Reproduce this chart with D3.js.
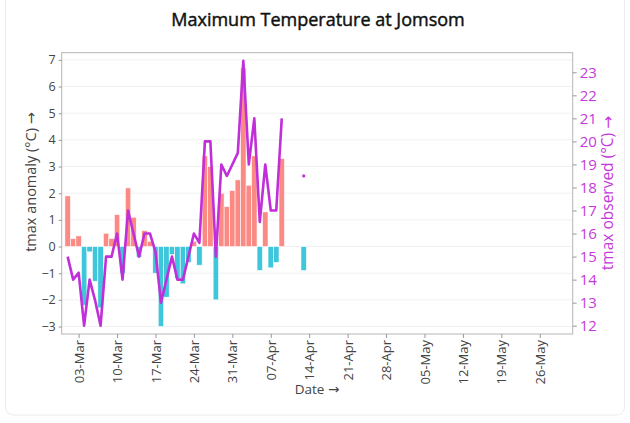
<!DOCTYPE html>
<html>
<head>
<meta charset="utf-8">
<script src="https://cdn.jsdelivr.net/npm/d3@7"></script>
<style>
  body { margin: 0; background: #fff; font-family: "Open Sans", "Noto Sans", sans-serif; }
  .tick text { font-family: "Open Sans", "Noto Sans", sans-serif; }
  .arrow { font-family: "DejaVu Sans", sans-serif; }
</style>
</head>
<body>
<div id="chart"></div>
<script>
var svgWidth = 630;
var svgHeight = 423;

var margin = { top: 52.7, right: 57.3, bottom: 89, left: 61.7 };
var width = svgWidth - margin.left - margin.right;
var height = svgHeight - margin.top - margin.bottom;

// daily values, 01-Mar .. 13-Apr (null = missing)
var dates = ["2023-03-01","2023-03-02","2023-03-03","2023-03-04","2023-03-05","2023-03-06","2023-03-07",
  "2023-03-08","2023-03-09","2023-03-10","2023-03-11","2023-03-12","2023-03-13","2023-03-14",
  "2023-03-15","2023-03-16","2023-03-17","2023-03-18","2023-03-19","2023-03-20","2023-03-21",
  "2023-03-22","2023-03-23","2023-03-24","2023-03-25","2023-03-26","2023-03-27","2023-03-28",
  "2023-03-29","2023-03-30","2023-03-31","2023-04-01","2023-04-02","2023-04-03","2023-04-04",
  "2023-04-05","2023-04-06","2023-04-07","2023-04-08","2023-04-09","2023-04-10","2023-04-11",
  "2023-04-12","2023-04-13"];
var anomaly = [1.9, 0.3, 0.4, -2.2, -0.2, -1.3, -2.3,
  0.5, 0.3, 1.2, -1.0, 2.2, 1.1, -0.4,
  0.6, 0.2, -1.0, -3.0, -1.9, -0.3, -1.2,
  -1.4, -0.6, 0.2, -0.7, 3.4, 3.0, -2.0,
  2.0, 1.5, 2.1, 2.5, 6.7, 2.3, 3.4,
  -0.9, 1.3, -0.8, -0.6, 3.3, null, null,
  null, -0.9];
var observed = [15, 14, 14.3, 12, 14, 13.1, 12,
  15, 15, 16, 14, 17, 16, 15,
  16, 16, 15.2, 13, 14, 15, 14,
  14, 15, 16, 15.6, 20, 20, 15,
  19, 18.5, 19, 19.5, 23.5, 19, 21,
  16.5, 19, 17, 17, 21, null, null,
  null, 18.5];

var leftTicks = [-3, -2, -1, 0, 1, 2, 3, 4, 5, 6, 7];
var rightTicks = [12, 13, 14, 15, 16, 17, 18, 19, 20, 21, 22, 23];

var parse = d3.timeParse("%Y-%m-%d");
var data = dates.map(function (d, i) {
  return { date: parse(d), anom: anomaly[i], obs: observed[i] };
});

var svg = d3.select("#chart")
  .append("svg")
  .attr("width", svgWidth)
  .attr("height", svgHeight);

// faint card outline
svg.append("rect")
  .attr("x", 5.5).attr("y", -10)
  .attr("width", 619).attr("height", 425)
  .attr("rx", 8)
  .attr("fill", "none")
  .attr("stroke", "#ececec");

var chartGroup = svg.append("g")
  .attr("transform", `translate(${margin.left}, ${margin.top})`);

var xScale = d3.scaleTime()
  .domain([new Date(2023, 1, 27, 22), new Date(2023, 5, 1, 0)])
  .range([0, width]);

var yLeft = d3.scaleLinear()
  .domain([-3.28, 7.27])
  .range([height, 0]);

var yRight = d3.scaleLinear()
  .domain([11.64, 23.85])
  .range([height, 0]);

var dayPx = xScale(new Date(2023, 2, 2)) - xScale(new Date(2023, 2, 1));

// grid lines
chartGroup.append("g")
  .selectAll("line")
  .data(leftTicks)
  .enter()
  .append("line")
  .attr("x1", 0).attr("x2", width)
  .attr("y1", function (d) { return yLeft(d); })
  .attr("y2", function (d) { return yLeft(d); })
  .attr("stroke", "#f1f1f1")
  .attr("stroke-width", 1);

// anomaly bars
chartGroup.append("g")
  .selectAll("rect")
  .data(data.filter(function (d) { return d.anom !== null; }))
  .enter()
  .append("rect")
  .attr("x", function (d) { return xScale(d.date) - dayPx / 2; })
  .attr("width", dayPx)
  .attr("y", function (d) { return yLeft(Math.max(0, d.anom)); })
  .attr("height", function (d) { return Math.abs(yLeft(d.anom) - yLeft(0)); })
  .attr("fill", function (d) { return d.anom >= 0 ? "#fb8a85" : "#3ec6dc"; })
  .attr("stroke", "#fff")
  .attr("stroke-width", 0.6);

// observed line
var line = d3.line()
  .defined(function (d) { return d.obs !== null; })
  .x(function (d) { return xScale(d.date); })
  .y(function (d) { return yRight(d.obs); });

chartGroup.append("path")
  .datum(data)
  .attr("fill", "none")
  .attr("stroke", "#c02fd8")
  .attr("stroke-width", 2.6)
  .attr("stroke-linejoin", "round")
  .attr("d", line);

// isolated points
chartGroup.append("g")
  .selectAll("circle")
  .data(data.filter(function (d, i) {
    var prev = i > 0 ? data[i - 1].obs : null;
    var next = i < data.length - 1 ? data[i + 1].obs : null;
    return d.obs !== null && prev === null && next === null;
  }))
  .enter()
  .append("circle")
  .attr("cx", function (d) { return xScale(d.date); })
  .attr("cy", function (d) { return yRight(d.obs); })
  .attr("r", 1.6)
  .attr("fill", "#c02fd8");

// frame
chartGroup.append("rect")
  .attr("x", 0).attr("y", 0)
  .attr("width", width).attr("height", height)
  .attr("fill", "none")
  .attr("stroke", "#b5b5b5")
  .attr("stroke-width", 1);

// axes
var xAxis = d3.axisBottom(xScale)
  .tickValues(d3.timeDay.range(new Date(2023, 2, 3), new Date(2023, 5, 1), 7))
  .tickFormat(d3.timeFormat("%d-%b"))
  .tickSize(4);

var gx = chartGroup.append("g")
  .attr("transform", `translate(0, ${height})`)
  .call(xAxis);
gx.select(".domain").remove();
gx.selectAll("line").attr("stroke", "#999");
gx.selectAll("text")
  .attr("transform", "rotate(-90)")
  .attr("text-anchor", "end")
  .attr("x", -6)
  .attr("y", 0)
  .attr("dy", "0.35em")
  .attr("fill", "#444")
  .style("font-size", "13px");

var gl = chartGroup.append("g")
  .call(d3.axisLeft(yLeft).tickValues(leftTicks).tickSize(3));
gl.select(".domain").remove();
gl.selectAll("line").attr("stroke", "#999");
gl.selectAll("text").attr("fill", "#444").style("font-size", "12.5px");

var gr = chartGroup.append("g")
  .attr("transform", `translate(${width}, 0)`)
  .call(d3.axisRight(yRight).tickValues(rightTicks).tickSize(4));
gr.select(".domain").remove();
gr.selectAll("line").attr("stroke", "#999");
gr.selectAll("text").attr("fill", "#c53adb").style("font-size", "15px");

// titles
svg.append("text")
  .attr("x", 318)
  .attr("y", 26)
  .attr("text-anchor", "middle")
  .attr("fill", "#111")
  .attr("stroke", "#111")
  .attr("stroke-width", 0.45)
  .style("font-size", "18px")
  .text("Maximum Temperature at Jomsom");

function axisTitle(el, label) {
  el.append("tspan").text(label + " ");
  el.append("tspan").attr("class", "arrow").text("→");
}

var lt = svg.append("text")
  .attr("transform", "translate(36, 182) rotate(-90)")
  .attr("text-anchor", "middle")
  .attr("fill", "#444")
  .style("font-size", "14.5px");
axisTitle(lt, "tmax anomaly (°C)");

var rt = svg.append("text")
  .attr("transform", "translate(613, 193) rotate(-90)")
  .attr("text-anchor", "middle")
  .attr("fill", "#c53adb")
  .style("font-size", "15.5px");
axisTitle(rt, "tmax observed (°C)");

var bt = svg.append("text")
  .attr("x", 317)
  .attr("y", 394)
  .attr("text-anchor", "middle")
  .attr("fill", "#444")
  .style("font-size", "13.5px");
axisTitle(bt, "Date");
</script>
</body>
</html>
